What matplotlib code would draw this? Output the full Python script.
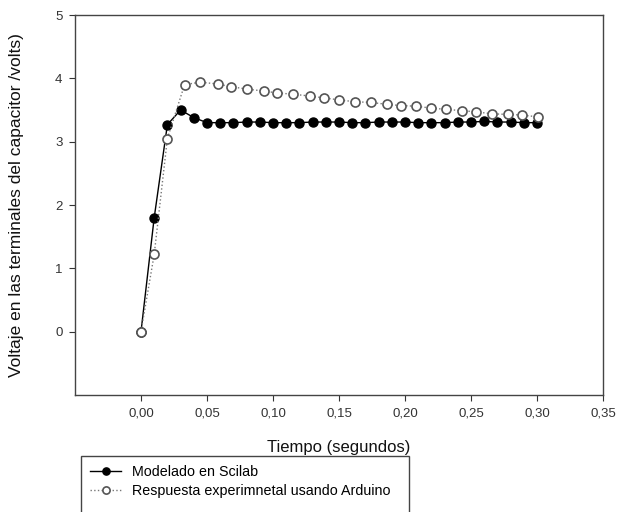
import matplotlib
matplotlib.use("Agg")
import matplotlib.pyplot as plt
from matplotlib.ticker import FuncFormatter
from matplotlib.patches import Rectangle

plt.rcParams['font.family'] = ['Liberation Sans', 'DejaVu Sans']

# Modelado en Scilab
t_model = [0.00, 0.01, 0.02, 0.03, 0.04, 0.05, 0.06, 0.07, 0.08, 0.09, 0.10,
           0.11, 0.12, 0.13, 0.14, 0.15, 0.16, 0.17, 0.18, 0.19, 0.20,
           0.21, 0.22, 0.23, 0.24, 0.25, 0.26, 0.27, 0.28, 0.29, 0.30]
v_model = [0.00, 1.80, 3.27, 3.50, 3.38, 3.30, 3.30, 3.30, 3.31, 3.31, 3.30,
           3.30, 3.30, 3.31, 3.31, 3.31, 3.30, 3.30, 3.31, 3.31, 3.31,
           3.30, 3.30, 3.30, 3.31, 3.31, 3.32, 3.31, 3.31, 3.30, 3.30]

# Respuesta experimental usando Arduino
t_exp = [0.000, 0.010, 0.020, 0.033, 0.045, 0.058, 0.068, 0.080, 0.093, 0.103,
         0.115, 0.128, 0.139, 0.150, 0.162, 0.174, 0.186, 0.197, 0.208, 0.220,
         0.231, 0.243, 0.254, 0.266, 0.278, 0.289, 0.301]
v_exp = [0.00, 1.22, 3.05, 3.90, 3.94, 3.91, 3.87, 3.83, 3.80, 3.77,
         3.75, 3.72, 3.69, 3.66, 3.63, 3.62, 3.59, 3.57, 3.56, 3.53,
         3.51, 3.49, 3.47, 3.44, 3.43, 3.42, 3.39]

x_ticks = [0.00, 0.05, 0.10, 0.15, 0.20, 0.25, 0.30, 0.35]
y_ticks = [0, 1, 2, 3, 4, 5]

W, H = 617, 512
fig = plt.figure(figsize=(W / 100, H / 100), dpi=100)
ax = fig.add_axes([75 / W, 1 - 395 / H, (603 - 75) / W, (395 - 15) / H])

l1, = ax.plot(t_model, v_model, color='black', linestyle='-', linewidth=1.0,
              marker='o', markersize=6.5, markerfacecolor='black',
              markeredgecolor='black', label='Modelado en Scilab', zorder=3)
l2, = ax.plot(t_exp, v_exp, color='#777777', linestyle=':', linewidth=1.0,
              marker='o', markersize=6.5, markerfacecolor='white',
              markeredgecolor='#555555', markeredgewidth=1.2,
              label='Respuesta experimnetal usando Arduino', zorder=4)

ax.set_xlim(-0.05, 0.35)
ax.set_ylim(-1, 5)
ax.set_xticks(x_ticks)
ax.set_yticks(y_ticks)
ax.xaxis.set_major_formatter(FuncFormatter(lambda v, p: f"{v:.2f}".replace('.', ',')))
ax.tick_params(direction='out', length=4, labelsize=9.5, colors='#333333', pad=5)
for s in ax.spines.values():
    s.set_color('#444444')
    s.set_linewidth(1.0)

ax.set_xlabel('Tiempo (segundos)', fontsize=12, labelpad=15, color='#111111')
ax.set_ylabel('Voltaje en las terminales del capacitor /volts)', fontsize=12.5,
              labelpad=22, color='#111111')

# legend frame (box below the axes, running off the bottom edge)
fig.patches.append(Rectangle((81 / W, -0.01), (409 - 81) / W, (H - 456) / H + 0.01,
                             transform=fig.transFigure, fill=False,
                             edgecolor='#444444', linewidth=1.0))
leg = fig.legend(handles=[l1, l2], loc='upper left',
                 bbox_to_anchor=(90 / W, 1 - 465 / H), fontsize=10.3,
                 frameon=False, handlelength=2.2, borderpad=0.0, markerscale=0.8,
                 borderaxespad=0.0, labelspacing=0.35, handletextpad=0.75)

fig.savefig('out.png', dpi=100)
